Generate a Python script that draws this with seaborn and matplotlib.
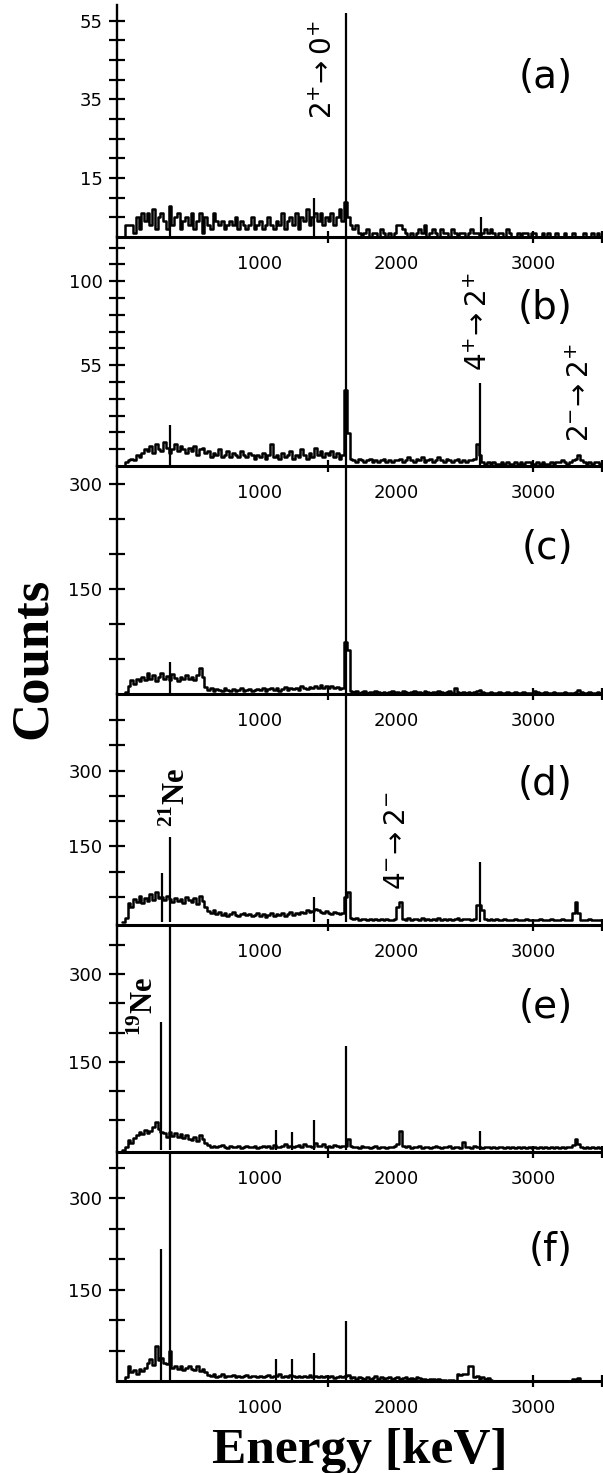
import numpy as np
import pandas as pd
import matplotlib
matplotlib.use("Agg")
import matplotlib.pyplot as plt
import seaborn as sns

# ---------------------------------------------------------------------------
# Gamma-ray spectra, 20 keV bins from 0 to 3500 keV (counts per bin)
# ---------------------------------------------------------------------------
BIN_WIDTH = 20
E_MAX = 3500

counts_a = [
    0, 3, 3, 3, 1, 5, 2, 6, 4, 6, 3, 7, 2, 5, 6, 4, 2, 8, 3, 5, 6, 2, 4, 5, 3,
    6, 2, 4, 6, 1, 5, 3, 2, 6, 4, 3, 4, 2, 3, 4, 3, 5, 2, 4, 3, 2, 3, 5, 2, 3,
    4, 2, 3, 5, 3, 2, 4, 3, 6, 2, 4, 5, 3, 6, 2, 5, 4, 7, 3, 5, 6, 4, 6, 3, 5,
    4, 6, 3, 5, 7, 4, 9, 5, 3, 2, 3, 1, 0, 1, 2, 0, 1, 1, 0, 2, 1, 0, 1, 0, 1,
    3, 3, 2, 1, 0, 1, 0, 1, 2, 1, 3, 0, 1, 2, 1, 0, 2, 1, 1, 0, 2, 1, 0, 1, 1,
    0, 1, 2, 1, 1, 0, 1, 2, 1, 2, 1, 0, 1, 1, 0, 2, 1, 0, 0, 1, 0, 1, 1, 0, 1,
    1, 0, 0, 1, 0, 1, 0, 0, 1, 0, 0, 1, 0, 0, 1, 0, 0, 0, 1, 0, 0, 1, 0, 1, 0,
]
counts_b = [
    0, 2, 3, 4, 3, 6, 5, 7, 9, 8, 11, 7, 12, 9, 8, 13, 10, 7, 9, 12, 8, 11, 9, 7, 10,
    8, 11, 6, 9, 10, 7, 8, 5, 7, 6, 9, 5, 6, 8, 5, 7, 6, 5, 8, 6, 5, 7, 6, 4, 6,
    5, 7, 4, 6, 12, 5, 6, 4, 7, 5, 6, 8, 4, 6, 5, 9, 6, 4, 7, 5, 10, 6, 8, 5, 7,
    6, 8, 5, 7, 4, 6, 41, 18, 4, 3, 2, 4, 3, 2, 3, 4, 2, 3, 2, 3, 4, 2, 3, 2, 3,
    3, 4, 2, 3, 5, 3, 2, 4, 3, 5, 2, 3, 4, 2, 3, 5, 3, 2, 4, 3, 2, 3, 4, 2, 3,
    2, 3, 3, 4, 12, 6, 2, 1, 2, 1, 2, 1, 1, 2, 1, 2, 1, 1, 2, 1, 2, 1, 2, 2, 1,
    1, 2, 1, 2, 1, 1, 2, 1, 2, 2, 3, 2, 1, 2, 3, 4, 6, 3, 2, 1, 2, 1, 2, 2, 1,
]
counts_c = [
    0, 3, 12, 20, 15, 22, 18, 25, 20, 30, 22, 27, 19, 24, 30, 21, 26, 20, 28, 23, 19, 25, 21, 27, 22,
    24, 20, 27, 37, 25, 10, 6, 8, 5, 7, 6, 5, 8, 6, 4, 7, 5, 6, 8, 5, 6, 7, 5, 6, 7,
    6, 8, 5, 7, 9, 6, 8, 5, 7, 10, 6, 8, 7, 9, 6, 11, 8, 7, 10, 8, 12, 9, 13, 8, 11,
    9, 12, 8, 10, 7, 9, 75, 63, 5, 3, 4, 2, 3, 4, 2, 3, 2, 4, 3, 2, 3, 2, 3, 4, 2,
    3, 2, 4, 3, 2, 3, 4, 2, 3, 2, 4, 3, 2, 3, 2, 4, 3, 2, 3, 5, 2, 8, 3, 2, 3,
    2, 3, 2, 3, 4, 6, 3, 2, 2, 3, 2, 2, 3, 2, 2, 3, 2, 2, 3, 2, 2, 3, 2, 2, 2,
    5, 3, 2, 2, 3, 2, 2, 3, 2, 2, 2, 3, 2, 2, 2, 3, 6, 3, 2, 2, 3, 2, 2, 3, 2,
]
counts_d = [
    0, 8, 38, 30, 45, 40, 52, 38, 48, 42, 55, 44, 60, 47, 50, 43, 52, 45, 40, 48, 42, 46, 38, 50, 44,
    40, 48, 36, 52, 42, 30, 22, 18, 24, 16, 20, 14, 18, 12, 16, 20, 14, 12, 15, 18, 13, 16, 12, 14, 17,
    12, 15, 10, 14, 18, 11, 15, 13, 17, 12, 16, 20, 14, 18, 16, 20, 17, 24, 19, 22, 26, 24, 20, 18, 22,
    18, 15, 20, 17, 16, 18, 50, 60, 8, 5, 7, 4, 6, 5, 3, 6, 4, 5, 3, 6, 4, 5, 3, 4, 6,
    30, 40, 6, 4, 7, 3, 5, 6, 4, 7, 3, 5, 4, 6, 3, 7, 4, 5, 3, 6, 4, 5, 7, 4, 5,
    5, 6, 4, 5, 34, 34, 24, 5, 4, 6, 3, 5, 4, 3, 5, 4, 3, 4, 5, 3, 4, 3, 5, 4, 3,
    4, 3, 5, 4, 3, 4, 5, 3, 4, 3, 5, 4, 3, 4, 18, 40, 18, 4, 3, 4, 5, 3, 4, 3, 4,
]
counts_e = [
    0, 5, 16, 12, 20, 25, 30, 26, 34, 28, 32, 38, 47, 36, 30, 28, 22, 30, 24, 28, 22, 26, 20, 25, 18,
    16, 22, 14, 25, 18, 12, 8, 5, 7, 4, 6, 8, 5, 3, 7, 5, 4, 6, 3, 5, 7, 4, 5, 6, 3,
    5, 7, 4, 6, 3, 8, 5, 4, 6, 10, 5, 7, 4, 6, 8, 5, 9, 6, 7, 5, 12, 7, 6, 9, 5,
    7, 5, 8, 6, 5, 7, 6, 19, 6, 4, 5, 3, 6, 4, 5, 3, 4, 6, 3, 5, 4, 3, 5, 4, 6,
    10, 32, 6, 4, 6, 3, 5, 4, 6, 3, 5, 4, 3, 5, 6, 4, 3, 5, 4, 6, 3, 4, 5, 3, 13,
    4, 5, 3, 6, 4, 5, 3, 4, 5, 3, 4, 3, 5, 4, 3, 4, 3, 5, 3, 4, 3, 4, 3, 5, 3,
    4, 3, 4, 3, 5, 3, 4, 3, 4, 3, 4, 3, 4, 5, 8, 19, 10, 4, 3, 4, 3, 4, 3, 4, 3,
]
counts_f = [
    0, 6, 25, 14, 18, 12, 20, 16, 22, 30, 36, 26, 58, 34, 38, 30, 28, 50, 22, 25, 20, 24, 18, 22, 25,
    20, 18, 24, 16, 20, 15, 10, 8, 12, 7, 9, 11, 6, 9, 8, 10, 7, 9, 6, 8, 10, 7, 9, 8, 6,
    9, 7, 8, 10, 6, 9, 8, 12, 7, 9, 6, 10, 8, 7, 9, 6, 8, 7, 10, 6, 8, 7, 9, 6, 8,
    6, 8, 5, 7, 9, 6, 8, 10, 5, 6, 4, 7, 5, 3, 6, 4, 5, 8, 4, 6, 3, 5, 7, 4, 5,
    6, 4, 5, 7, 3, 5, 4, 6, 5, 3, 4, 2, 3, 4, 2, 3, 2, 1, 0, 2, 1, 0, 11, 10, 11,
    11, 25, 25, 6, 8, 4, 6, 3, 5, 2, 0, 0, 0, 0, 0, 0, 0, 0, 0, 0, 0, 0, 0, 0, 0,
    0, 0, 0, 0, 0, 0, 0, 0, 0, 0, 0, 0, 0, 0, 4, 0, 5, 0, 0, 0, 0, 0, 0, 0, 0,
]

# Narrow gamma lines (energy in keV, peak counts)
peaks_a_E = [352, 1400, 1634, 2615]
peaks_a_H = [8, 10, 57, 5]
peaks_b_E = [352, 1634, 2613]
peaks_b_H = [22, 180, 45]
peaks_c_E = [352, 1634]
peaks_c_H = [46, 600]
peaks_d_E = [289, 352, 1400, 1634, 2613]
peaks_d_H = [97, 169, 50, 900, 119]
peaks_e_E = [285, 352, 1120, 1240, 1400, 1634, 2613]
peaks_e_H = [218, 620, 34, 31, 50, 178, 32]
peaks_f_E = [285, 352, 1120, 1240, 1400, 1634]
peaks_f_H = [216, 560, 36, 36, 46, 98]

panel_labels = ["(a)", "(b)", "(c)", "(d)", "(e)", "(f)"]
panel_label_y = [0.69, 0.69, 0.64, 0.61, 0.64, 0.57]

# y-axis ranges and ticks for each panel
ylims = [(0, 59), (0, 124), (0, 326), (-6, 452), (-4, 384), (0, 376)]
ytick_labels = [["15", "35", "55"], ["55", "100"], ["150", "300"],
                ["150", "300"], ["150", "300"], ["150", "300"]]
ytick_major = [[15, 35, 55], [54.6, 100.1], [150, 300],
               [150, 300], [150, 300], [150, 300]]
ytick_minor = [[5, 10, 20, 25, 30, 40, 45, 50],
               [9.1 * k for k in range(1, 14) if k not in (6, 11)],
               [50, 100, 200, 250],
               [50, 100, 200, 250, 350, 400],
               [50, 100, 200, 250, 350],
               [50, 100, 200, 250, 350]]

xtick_labels = [1000, 2000, 3000]
xtick_marks = [1500, 3000, 3500]

# ---------------------------------------------------------------------------
sns.set_style("ticks")
plt.rcParams["font.family"] = ["DejaVu Sans"]
plt.rcParams["mathtext.fontset"] = "dejavusans"
for key in ("text.color", "axes.labelcolor", "xtick.color", "ytick.color",
            "axes.edgecolor"):
    plt.rcParams[key] = "black"

centers = np.arange(BIN_WIDTH / 2, E_MAX, BIN_WIDTH)
n_bins = len(centers)

W, H = 603, 1473
fig = plt.figure(figsize=(W / 100, H / 100), dpi=100)

panel_top = [5, 237, 466, 694, 925, 1152]
panel_bot = [237, 466, 694, 925, 1152, 1381]

all_counts = [counts_a, counts_b, counts_c, counts_d, counts_e, counts_f]
all_pE = [peaks_a_E, peaks_b_E, peaks_c_E, peaks_d_E, peaks_e_E, peaks_f_E]
all_pH = [peaks_a_H, peaks_b_H, peaks_c_H, peaks_d_H, peaks_e_H, peaks_f_H]

axes = []
for i in range(6):
    t, b = panel_top[i], panel_bot[i]
    ax = fig.add_axes([117 / W, 1 - b / H, 485 / W, (b - t) / H])
    ax.patch.set_visible(False)
    spec = pd.DataFrame({"energy": centers, "counts": all_counts[i]})
    sns.histplot(data=spec, x="energy", weights="counts", bins=n_bins,
                 binrange=(0, E_MAX), element="step", fill=False,
                 color="black", linewidth=1.8, ax=ax)
    ax.vlines(all_pE[i], 0, all_pH[i], color="black", linewidth=1.6)

    ax.set_xlim(-37, 3500)
    ax.set_ylim(*ylims[i])
    ax.set_xlabel("")
    ax.set_ylabel("")

    ax.spines[["top", "right"]].set_visible(False)
    ax.spines["left"].set_linewidth(1.7)
    ax.spines["bottom"].set_linewidth(2.2)

    ax.set_yticks(ytick_major[i], labels=ytick_labels[i])
    ax.set_yticks(ytick_minor[i], minor=True)
    ax.tick_params(axis="y", which="both", direction="inout", length=11,
                   width=1.6, labelsize=13, pad=5, colors="black")

    ax.xaxis.remove_overlapping_locs = False
    ax.set_xticks(xtick_labels, labels=[str(v) for v in xtick_labels])
    ax.set_xticks(xtick_marks, minor=True)
    ax.tick_params(axis="x", which="major", length=0, pad=13, labelsize=13,
                   colors="black")
    ax.tick_params(axis="x", which="minor", direction="inout", length=9,
                   width=1.6, colors="black")

    ax.text(0.94, panel_label_y[i], panel_labels[i], transform=ax.transAxes,
            ha="right", va="center", fontsize=28, color="black")
    axes.append(ax)

ax_a, ax_b, ax_c, ax_d, ax_e, ax_f = axes

# Transition labels
trans_kw = dict(rotation=90, ha="center", va="center", fontsize=20,
                color="black")
ax_a.text(1474, 42.6, r"$2^{+}\!\rightarrow 0^{+}$", **trans_kw)
ax_b.text(2601, 78, r"$4^{+}\!\rightarrow 2^{+}$", **trans_kw)
ax_b.text(3349, 39.5, r"$2^{-}\!\rightarrow 2^{+}$", **trans_kw)
ax_d.text(2004, 162, r"$4^{-}\!\rightarrow 2^{-}$", **trans_kw)

iso_kw = dict(rotation=90, ha="center", va="center", fontsize=22,
              family="Liberation Serif", fontweight="bold", color="black")
ax_d.text(400, 247, r"$^{\mathregular{21}}$Ne", **iso_kw)
ax_e.text(166, 245, r"$^{\mathregular{19}}$Ne", **iso_kw)

fig.text(33 / W, 1 - 658 / H, "Counts", rotation=90, ha="center", va="center",
         fontsize=38, fontweight="bold", family="Liberation Serif",
         color="black")
fig.text(360 / W, 1 - 1463 / H, "Energy [keV]", ha="center", va="baseline",
         fontsize=37, fontweight="bold", family="Liberation Serif",
         color="black")

fig.savefig("out.png", dpi=100)
